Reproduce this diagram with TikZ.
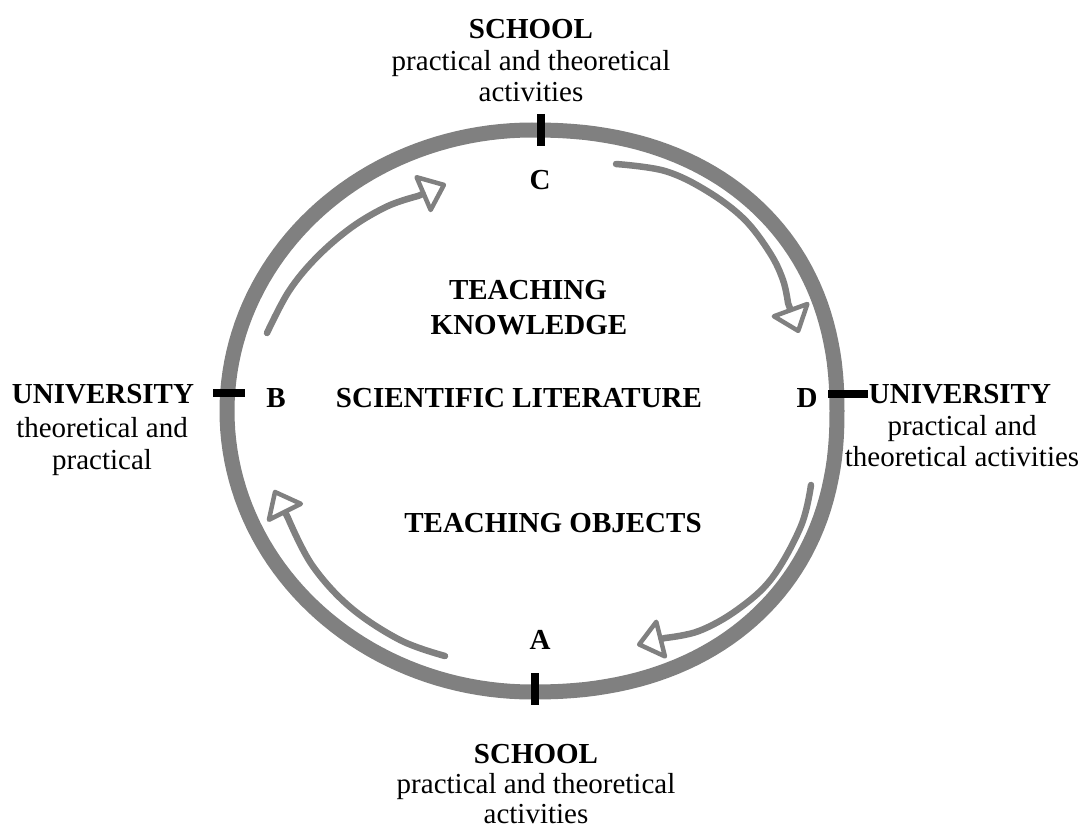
\documentclass[tikz,border=0pt]{standalone}
\usepackage{fontspec}
\setmainfont{Liberation Serif}
\usetikzlibrary{arrows.meta}
\definecolor{ringgray}{RGB}{128,128,128}
\begin{document}
\begin{tikzpicture}[x=1pt,y=-1pt,
  lbl/.style={anchor=base,inner sep=0pt,font=\fontsize{29}{32}\selectfont},
  blbl/.style={lbl,font=\fontsize{29}{32}\selectfont\bfseries},
  tick/.style={line width=8pt,black},
  ring/.style={ringgray,line width=15pt,line join=round},
  flow/.style={ringgray,line width=6.5pt,line cap=round,line join=round,
    -{Triangle[open,length=28pt,width=44pt,line width=4.5pt,round]}}]
\useasboundingbox (0,0) rectangle (1082,829);
% ring: left half elliptical, right half slightly squarer
\draw[ring]
  plot[domain=90:0,samples=46,variable=\t]
    ({532+305*pow(cos(\t)+0.00001,0.9)},{411-281*pow(sin(\t)+0.00001,0.9)})
  -- plot[domain=0:90,samples=46,variable=\t]
    ({532+305*pow(cos(\t)+0.00001,0.9)},{411+281*pow(sin(\t)+0.00001,0.9)})
  -- plot[domain=90:270,samples=91,variable=\t]
    ({532+305*cos(\t)},{411+281*sin(\t)}) -- cycle;
% ticks
\coordinate (c1) at (541,114); \coordinate (c2) at (541,146);
\coordinate (a1) at (535,673); \coordinate (a2) at (535,705);
\coordinate (b1) at (213,393); \coordinate (b2) at (245,393);
\coordinate (d1) at (828,394); \coordinate (d2) at (868,394);
\draw[tick] (c1) -- (c2);
\draw[tick] (a1) -- (a2);
\draw[tick] (b1) -- (b2);
\draw[tick] (d1) -- (d2);
% arrow tips
\coordinate (h1) at (446,184);
\coordinate (h2) at (799,333);
\coordinate (h3) at (637,645);
\coordinate (h4) at (274,490);
% flow arrows
\draw[flow] plot[smooth,tension=0.6] coordinates {(267,333) (289,291) (317,257) (352,227) (388,206) (418,196)} -- (h1);
\draw[flow] plot[smooth,tension=0.6] coordinates {(616,164) (665,171) (707,191) (744,219) (770,253) (783,280) (788,303)} -- (h2);
\draw[flow] plot[smooth,tension=0.6] coordinates {(811,485) (801,526) (772,578) (737,610) (699,631) (665,638)} -- (h3);
\draw[flow] plot[smooth,tension=0.6] coordinates {(445,656) (400,640) (350,607) (312,565) (288,518)} -- (h4);
% top label
\node[blbl] (t1) at (531,39) {SCHOOL};
\node[lbl] (t2) at (531,71) {practical and theoretical};
\node[lbl] (t3) at (531,102) {activities};
% bottom label
\node[blbl] (s1) at (536,763) {SCHOOL};
\node[lbl] (s2) at (536,793) {practical and theoretical};
\node[lbl] (s3) at (536,823) {activities};
% left label
\node[blbl] (l1) at (103,403) {UNIVERSITY};
\node[lbl] (l2) at (102,437) {theoretical and};
\node[lbl] (l3) at (102,469) {practical};
% right label
\node[blbl] (r1) at (960,403) {UNIVERSITY};
\node[lbl] (r2) at (962,435) {practical and};
\node[lbl] (r3) at (962,466) {theoretical activities};
% points
\node[blbl] (C) at (540,190) {C};
\node[blbl] (A) at (540,649) {A};
\node[blbl] (B) at (276,407) {B};
\node[blbl] (D) at (807,407) {D};
% inner labels
\node[blbl] (k1) at (528,299) {TEACHING};
\node[blbl] (k2) at (529,334) {KNOWLEDGE};
\node[blbl] (sl) at (519,407) {SCIENTIFIC LITERATURE};
\node[blbl] (to) at (553,532) {TEACHING OBJECTS};
\end{tikzpicture}
\end{document}
